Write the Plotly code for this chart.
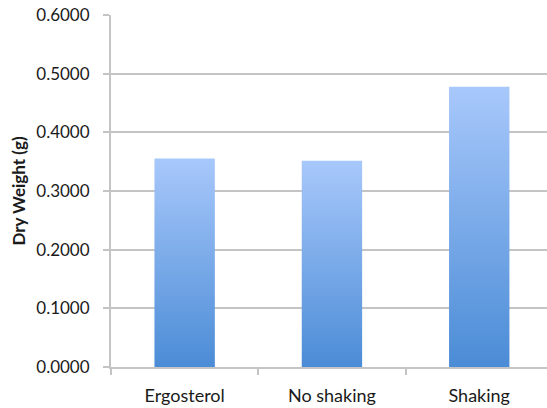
import plotly.graph_objects as go

categories = ["Ergosterol", "No shaking", "Shaking"]
dry_weight = [0.3556, 0.3515, 0.4775]
y_ticks = [0.0, 0.1, 0.2, 0.3, 0.4, 0.5, 0.6]

BAR_W = 0.41
TOP_C = "#a8c8fb"
BOT_C = "#4b8cd6"
GRID = "#c4c4c4"
FONT = "Lato"

fig = go.Figure()
for i, (cat, v) in enumerate(zip(categories, dry_weight)):
    x0, x1 = i - BAR_W / 2, i + BAR_W / 2
    fig.add_trace(go.Scatter(
        x=[x0, x1, x1, x0, x0], y=[0, 0, v, v, 0],
        mode="lines", line=dict(width=0), fill="toself",
        fillgradient=dict(type="vertical", colorscale=[[0, BOT_C], [1, TOP_C]]),
        name=cat, hoverinfo="skip", showlegend=False,
    ))

fig.update_layout(
    width=547, height=408,
    margin=dict(l=111, r=0, t=15, b=41),
    plot_bgcolor="white", paper_bgcolor="white",
    font=dict(family=FONT, size=17, color="#1a1a1a"),
    showlegend=False,
)
fig.update_xaxes(
    range=[-0.5, 2.46], tickvals=list(range(len(categories))), ticktext=categories,
    ticks="", showgrid=False, zeroline=False,
    showline=True, linecolor=GRID, linewidth=2,
    minor=dict(ticks="outside", tick0=-0.5, dtick=1, ticklen=6, tickcolor=GRID, tickwidth=2, showgrid=False),
    ticklabelstandoff=11, tickfont=dict(size=18),
)
fig.update_yaxes(
    range=[0, 0.6], tickvals=y_ticks, tickformat=".4f",
    showgrid=True, gridcolor=GRID, gridwidth=2, zeroline=False,
    showline=True, linecolor=GRID, linewidth=2,
    ticks="outside", ticklen=6, tickcolor=GRID, tickwidth=2,
    ticklabelstandoff=10, tickfont=dict(size=17),
    title=dict(text="<b>Dry Weight (g)</b>", font=dict(size=17), standoff=6),
)

fig.write_html("out.html")
